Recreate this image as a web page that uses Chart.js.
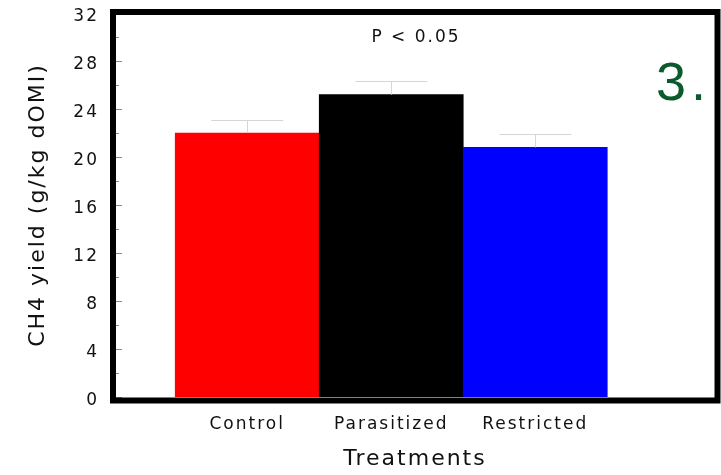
<!DOCTYPE html>
<html>
<head>
<meta charset="utf-8">
<script src="https://cdn.jsdelivr.net/npm/chart.js@4/dist/chart.umd.min.js"></script>
<style>
  html, body { margin: 0; padding: 0; background: #fff; }
  #wrap { width: 721px; height: 475px; }
</style>
</head>
<body>
<div id="wrap"><canvas id="ch4Chart"></canvas></div>
<script>
// CH4 yield by treatment

var categories = ['Control', 'Parasitized', 'Restricted'];
var yieldMeans = [22.0, 25.2, 20.8];
var yieldErrors = [1.05, 1.1, 1.1];
var barColors = ['#ff0000', '#000000', '#0000ff'];
var yTicks = [0, 4, 8, 12, 16, 20, 24, 28, 32];

var points = categories.map(function (c, i) {
    return { x: i + 1, y: yieldMeans[i] };
});

var FONT = "'DejaVu Sans', Verdana, sans-serif";

// error bars, inner tick marks, frame and extra labels
var decorPlugin = {
    id: 'decor',
    beforeDraw: function (chart) {
        chart.ctx.letterSpacing = '2px';
    },
    afterDatasetsDraw: function (chart) {
        var ctx = chart.ctx;
        var y = chart.scales.y;
        var meta = chart.getDatasetMeta(0);
        var area = chart.chartArea;

        ctx.save();
        ctx.strokeStyle = '#d6d6d6';
        ctx.lineWidth = 1;
        meta.data.forEach(function (bar, i) {
            var top = Math.round(y.getPixelForValue(yieldMeans[i] + yieldErrors[i])) + 0.5;
            var half = bar.width / 4;
            var x = Math.round(bar.x) + 0.5;
            ctx.beginPath();
            ctx.moveTo(x, bar.y);
            ctx.lineTo(x, top);
            ctx.moveTo(bar.x - half, top);
            ctx.lineTo(bar.x + half, top);
            ctx.stroke();
        });

        // small tick marks on the inside of the y axis
        ctx.strokeStyle = '#8a8a8a';
        for (var v = 0; v <= 32; v += 2) {
            var py = Math.round(y.getPixelForValue(v)) + 0.5;
            var len = (v % 4 === 0) ? 7 : 4;
            ctx.beginPath();
            ctx.moveTo(area.left + 2, py);
            ctx.lineTo(area.left + 2 + len, py);
            ctx.stroke();
        }

        // thick frame
        ctx.strokeStyle = '#000';
        ctx.lineWidth = 6;
        ctx.lineJoin = 'miter';
        ctx.strokeRect(area.left, area.top - 1, area.right - area.left + 0.5, area.bottom - area.top + 4.5);

        // significance note
        ctx.fillStyle = '#111';
        ctx.font = '17px ' + FONT;
        ctx.textAlign = 'center';
        ctx.textBaseline = 'alphabetic';
        ctx.letterSpacing = '2px';
        ctx.fillText('P < 0.05', (area.left + area.right) / 2 + 1, 42);

        // panel number
        ctx.fillStyle = '#0b5a2e';
        ctx.font = "54px 'Liberation Sans', Arial, sans-serif";
        ctx.textAlign = 'left';
        ctx.letterSpacing = '5px';
        ctx.fillText('3.', 656, 100);
        ctx.restore();
    }
};

var ctx = document.getElementById('ch4Chart').getContext('2d');
var myChart = new Chart(ctx, {
    type: 'bar',
    data: {
        datasets: [{
            label: 'CH4 yield',
            data: points,
            backgroundColor: barColors,
            borderWidth: 0,
            barPercentage: 1,
            categoryPercentage: 1
        }]
    },
    options: {
        responsive: true,
        maintainAspectRatio: false,
        animation: false,
        layout: {
            padding: { top: 13, right: 4, left: 0, bottom: 0 }
        },
        plugins: {
            legend: { display: false },
            tooltip: { enabled: false }
        },
        scales: {
            x: {
                type: 'linear',
                offset: false,
                min: 0.068,
                max: 4.262,
                grid: { display: false, drawTicks: false },
                border: { display: false },
                afterFit: function (scale) {
                    scale.height = 78;
                    scale.paddingLeft = 0;
                    scale.paddingRight = 0;
                },
                afterBuildTicks: function (scale) {
                    scale.ticks = categories.map(function (c, i) { return { value: i + 1 }; });
                },
                ticks: {
                    padding: 17,
                    color: '#111',
                    font: { family: FONT, size: 17 },
                    callback: function (value) { return categories[value - 1] || ''; }
                },
                title: {
                    display: true,
                    text: 'Treatments',
                    color: '#111',
                    font: { family: FONT, size: 22 },
                    padding: { bottom: 3, top: 0 }
                }
            },
            y: {
                min: 0,
                max: 32,
                grid: { display: false, drawTicks: false },
                border: { display: false },
                afterFit: function (scale) {
                    scale.width = 113;
                    scale.paddingTop = 0;
                    scale.paddingBottom = 0;
                },
                afterBuildTicks: function (scale) {
                    scale.ticks = yTicks.map(function (t) { return { value: t }; });
                },
                ticks: {
                    padding: 14,
                    color: '#111',
                    // empty first line nudges the number a few px below its tick
                    font: { family: FONT, size: 17, lineHeight: 0.47 },
                    callback: function (value) { return ['', String(value)]; }
                },
                title: {
                    display: true,
                    text: 'CH4 yield (g/kg dOMI)',
                    color: '#111',
                    font: { family: FONT, size: 22 },
                    padding: { top: 25, bottom: 0 }
                }
            }
        }
    },
    plugins: [decorPlugin]
});
</script>
</body>
</html>
